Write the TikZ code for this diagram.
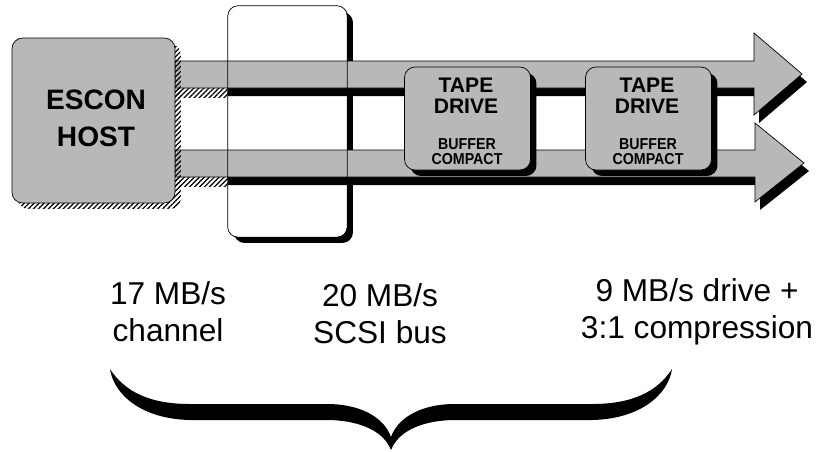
\documentclass[tikz,border=0pt]{standalone}
\usepackage{fontspec}
\setmainfont{Liberation Sans}
\newfontfamily\narrowsans[FakeStretch=0.9]{Liberation Sans}
\usetikzlibrary{patterns.meta,shadows}

\begin{document}
\begin{tikzpicture}
    [x=0.02cm, y=-0.02cm,
    dotfill/.style={fill=black!28, draw=black, line width=0.4pt},
    hatchfill/.style={pattern={Lines[angle=45, distance=2pt, line width=0.7pt]}},
    box/.style={rounded corners=6pt, inner sep=0pt, line width=0.4pt},
    hatchshade/.style={general shadow={shadow xshift=3.4pt, shadow yshift=-3.4pt, hatchfill}},
    blackshade/.style={general shadow={shadow xshift=3.4pt, shadow yshift=-3.4pt, fill=black}},
    hosttext/.style={font=\fontsize{16}{20.5}\selectfont\bfseries, align=center, anchor=base},
    tapetext/.style={font=\fontsize{12}{11.4}\selectfont\bfseries, align=center, anchor=base},
    smalltext/.style={font=\narrowsans\fontsize{9}{8.5}\selectfont\bfseries, align=center, anchor=base},
    ratetext/.style={font=\fontsize{18}{21}\selectfont, align=center, anchor=base}]
        \useasboundingbox (0,0) rectangle (817,451);

        %% SCSI bus box (outline drawn again over the arrows)
        \node[box, blackshade, fill=white, minimum width=2.38cm, minimum height=4.62cm] (scsi) at (287.5,121.5) {};

        %% shadows of the two arrows
        \fill[hatchfill] (175,88) rectangle (228,97);
        \fill[hatchfill] (175,177) rectangle (228,186);
        \fill (228,69) -- (759,69) -- (759,41) -- (807,82) -- (759,123) -- (759,96) -- (228,96) -- cycle;
        \fill (228,158) -- (760,158) -- (760,131) -- (809,171) -- (760,210) -- (760,185) -- (228,185) -- cycle;

        %% the two arrows
        \draw[dotfill] (175,61) -- (754,61) -- (754,33) -- (802,74) -- (754,115) -- (754,88) -- (175,88) -- cycle;
        \draw[dotfill] (175,150) -- (755,150) -- (755,123) -- (804,163) -- (755,202) -- (755,177) -- (175,177) -- cycle;

        \draw[rounded corners=6pt, line width=0.4pt] (scsi.north west) rectangle (scsi.south east);

        %% host
        \node[box, hatchshade, dotfill, minimum width=3.26cm, minimum height=3.3cm] (host) at (93.5,120.5) {};
        \node[hosttext] (hostname) at (96,146) {ESCON\\HOST};

        %% tape drives
        \node[box, blackshade, dotfill, minimum width=2.52cm, minimum height=2.06cm] (tape1) at (467.5,118.5) {};
        \node[box, blackshade, dotfill, minimum width=2.52cm, minimum height=2.06cm] (tape2) at (648.5,118.5) {};
        \node[tapetext] (tape1name) at (466,113) {TAPE\\DRIVE};
        \node[smalltext] (tape1mode) at (467,164) {BUFFER\\COMPACT};
        \node[tapetext] (tape2name) at (647,113) {TAPE\\DRIVE};
        \node[smalltext] (tape2mode) at (648,164) {BUFFER\\COMPACT};

        %% rates
        \node[ratetext] (channel) at (168,341) {17 MB/s\\channel};
        \node[ratetext] (bus) at (380,343) {20 MB/s\\SCSI bus};
        \node[ratetext] (drive) at (697,338) {9 MB/s drive +\\3:1 compression};

        %% brace
        \fill (110,369) .. controls (125,392) and (150,404) .. (190,404) -- (330,404)
            .. controls (365,405) and (385,420) .. (391,437)
            .. controls (397,420) and (417,405) .. (452,404) -- (592,404)
            .. controls (632,404) and (657,392) .. (672,369)
            .. controls (668,395) and (640,419) .. (592,420) -- (452,420)
            .. controls (420,421) and (398,432) .. (391,450)
            .. controls (384,432) and (362,421) .. (330,420) -- (190,420)
            .. controls (142,419) and (114,395) .. (110,369) -- cycle;
    \end{tikzpicture}
\end{document}
